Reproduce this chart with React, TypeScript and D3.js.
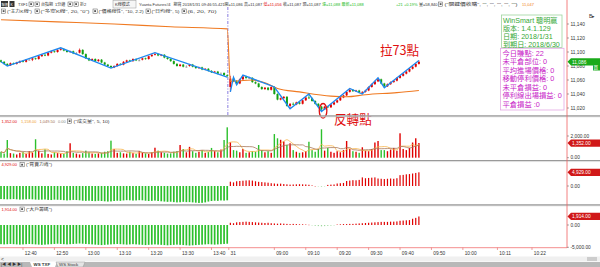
import * as d3 from "d3";

// 1-min bars [open, high, low, close]: 12:33–13:45 of the previous session, then 08:46–09:46 on 2018/1/31
const pmBars = [
  [11088,11089,11085,11086],[11086,11087,11082,11083],[11083,11084,11080,11081],[11081,11085,11080,11084],[11084,11085,11082,11083],
  [11083,11086,11082,11085],[11085,11088,11084,11087],[11087,11088,11085,11086],[11086,11090,11085,11089],[11089,11090,11088,11089],
  [11089,11092,11087,11091],[11091,11092,11089,11090],[11090,11095,11089,11094],[11094,11097,11093,11096],[11096,11097,11094,11095],
  [11095,11100,11094,11099],[11099,11102,11098,11101],[11101,11102,11099,11100],[11100,11104,11099,11103],[11103,11106,11102,11104],
  [11104,11105,11101,11102],[11102,11103,11099,11100],[11100,11102,11099,11101],[11101,11102,11097,11098],[11098,11100,11097,11098],
  [11099,11105,11098,11103],[11103,11104,11096,11097],[11097,11098,11090,11091],[11091,11092,11087,11088],[11088,11091,11087,11090],
  [11090,11091,11086,11087],[11087,11090,11086,11089],[11089,11090,11084,11085],[11085,11086,11081,11082],[11082,11083,11079,11080],
  [11080,11081,11077,11078],[11078,11081,11077,11080],[11080,11084,11079,11083],[11083,11084,11081,11082],[11082,11087,11081,11086],
  [11086,11089,11085,11088],[11088,11089,11086,11087],[11087,11091,11086,11090],[11090,11091,11087,11088],[11088,11090,11087,11088],
  [11089,11092,11088,11091],[11091,11092,11089,11090],[11090,11095,11089,11094],[11094,11097,11093,11096],[11096,11099,11095,11097],
  [11097,11098,11094,11095],[11095,11097,11094,11096],[11096,11097,11091,11092],[11092,11093,11089,11090],[11090,11091,11086,11087],
  [11087,11088,11082,11083],[11083,11084,11079,11080],[11080,11083,11079,11082],[11082,11083,11078,11079],[11079,11081,11078,11079],
  [11080,11083,11079,11082],[11082,11083,11078,11079],[11079,11080,11076,11077],[11077,11079,11076,11078],[11078,11079,11074,11075],
  [11075,11077,11074,11076],[11076,11077,11072,11073],[11073,11074,11070,11071],[11071,11073,11070,11072],[11072,11073,11068,11069],
  [11069,11071,11068,11069],[11070,11071,11066,11067],[11067,11068,11064,11066],
];
const amBars = [
  [11050,11066,11043,11062],[11062,11064,11057,11058],[11058,11060,11053,11055],[11055,11062,11054,11061],[11061,11067,11060,11065],
  [11065,11066,11061,11063],[11063,11065,11062,11063],[11063,11064,11056,11057],[11057,11058,11054,11055],[11055,11056,11049,11050],
  [11050,11051,11046,11047],[11047,11050,11046,11049],[11049,11050,11045,11046],[11046,11051,11045,11050],[11050,11051,11039,11040],
  [11040,11041,11031,11032],[11032,11035,11031,11034],[11034,11037,11033,11036],[11036,11037,11022,11023],[11023,11027,11019,11026],
  [11026,11028,11024,11025],[11025,11029,11024,11028],[11028,11029,11025,11026],[11026,11032,11025,11031],[11031,11036,11030,11035],
  [11035,11040,11033,11034],[11034,11035,11029,11030],[11030,11031,11025,11026],[11026,11027,11021,11022],[11022,11023,11015,11018],
  [11018,11023,11017,11022],[11022,11023,11020,11021],[11021,11026,11020,11025],[11025,11029,11024,11028],[11028,11032,11027,11031],
  [11031,11036,11030,11035],[11035,11039,11034,11038],[11038,11044,11037,11043],[11043,11048,11042,11046],[11046,11047,11043,11044],
  [11044,11046,11043,11045],[11045,11046,11041,11042],[11042,11044,11040,11043],[11043,11046,11042,11045],[11045,11051,11044,11050],
  [11050,11055,11049,11054],[11054,11059,11053,11058],[11058,11063,11057,11061],[11061,11062,11054,11055],[11055,11056,11049,11051],
  [11051,11055,11050,11054],[11054,11058,11053,11057],[11057,11060,11056,11059],[11059,11064,11058,11063],[11063,11067,11062,11066],
  [11066,11070,11065,11069],[11069,11073,11068,11072],[11072,11077,11071,11076],[11076,11080,11075,11079],[11079,11084,11078,11083],
  [11083,11088,11082,11086],
];

const pmVolume = [
  550,380,1630,420,380,300,450,520,350,600,
  480,1700,650,400,770,350,300,500,420,380,
  350,600,1330,450,380,300,420,650,500,380,
  350,400,450,550,600,1570,800,450,500,400,
  380,550,420,350,600,450,400,350,500,920,
  650,500,450,380,400,550,600,1170,800,500,
  1000,600,450,550,700,450,550,900,600,500,
  750,1630,2800,
];
const amVolume = [
  1420,700,650,500,800,450,500,600,550,1170,
  700,500,600,450,2180,1790,1650,1500,1170,1330,
  700,550,450,500,600,1470,700,550,800,2620,
  650,900,550,450,600,500,700,1540,800,600,
  550,450,960,650,600,800,1400,1540,700,700,
  600,750,900,650,2250,800,700,900,1400,1790,
  1352,
];

// 買賣力道
const pmForce = [
  -4700,-4750,-4800,-4750,-4700,-4800,-4900,-4850,-4800,-4750,
  -4800,-4900,-4950,-4900,-4850,-5000,-5050,-4900,-4950,-5000,
  -5100,-5200,-5100,-5000,-5050,-5150,-5300,-5350,-5300,-5400,
  -5450,-5350,-5400,-5500,-5600,-5550,-5400,-5300,-5350,-5200,
  -5100,-5150,-5250,-5200,-5100,-5150,-5300,-5400,-5350,-5250,
  -5400,-5500,-5600,-5700,-5650,-5800,-5900,-5850,-5700,-5800,
  -5800,-5900,-6000,-6100,-6050,-5900,-5600,-5400,-5300,-5350,
  -5200,-5250,-5150,
];
const amForce = [
  1550,1300,1700,1800,1900,2000,2050,1950,1700,1500,
  1400,1300,1200,1000,900,800,850,700,600,500,
  550,600,650,600,550,450,200,0,-150,-250,
  -100,400,500,550,900,1000,1100,1800,1950,2100,
  2050,2200,3100,2800,2900,3000,3100,2700,2600,2500,
  2600,2700,2600,2800,3900,4000,4200,4300,4500,4700,
  4929,
];

// 大戶籌碼
const pmBig = [
  -4300,-4350,-4300,-4250,-4300,-4350,-4400,-4350,-4300,-4250,
  -4300,-4350,-4400,-4450,-4400,-4350,-4300,-4250,-4200,-4250,
  -4300,-4350,-4300,-4250,-4200,-4150,-4200,-4250,-4300,-4350,
  -4400,-4450,-4500,-4450,-4400,-4350,-4300,-4250,-4300,-4350,
  -4400,-4350,-4300,-4350,-4400,-4450,-4500,-4450,-4400,-4350,
  -4400,-4450,-4500,-4550,-4500,-4450,-4400,-4450,-4500,-4550,
  -4600,-4550,-4500,-4450,-4400,-4350,-4300,-4350,-4400,-4350,
  -4300,-4250,-4200,
];
const amBig = [
  500,400,600,650,700,750,700,650,600,550,
  500,450,500,400,350,300,350,300,250,200,
  250,200,150,150,100,50,-100,-200,-250,-300,
  -250,-200,-150,-100,100,150,200,200,250,250,
  300,350,400,450,500,550,600,650,700,700,
  700,750,750,800,950,1000,1050,1100,1400,1600,
  1914,
];

// swing (zigzag) pivots, bar index / price
const zigPmIdx = [0, 2, 19, 35, 49, 72];
const zigPmPrice = [11086, 11080, 11106, 11077, 11099, 11064];
const zigAmIdx = [73, 74, 75, 77, 87, 92, 98, 102, 111, 115, 120, 122, 133];
const zigAmPrice = [11043, 11064, 11053, 11067, 11050, 11019, 11040, 11015, 11048, 11040, 11063, 11049, 11088];

// orange average line, read at a few bars
const avgIdx = [0, 18, 36, 54, 72, 73, 76, 80, 84, 88, 95, 105, 110, 116, 126, 133];
const avgPrice = [11146, 11143, 11140, 11136, 11133, 11058, 11059, 11060, 11056, 11048, 11043, 11037, 11036, 11039, 11042, 11045];

const priceTicks = [11140, 11120, 11100, 11080, 11060, 11040, 11020];
const timeTickIdx = [7, 17, 27, 37, 47, 57, 67, 72.5, 87, 97, 107, 117, 127, 137, 147, 158, 169];
const timeTickLabels = ["12:40","12:50","13:00","13:10","13:20","13:30","13:40","31","09:00","09:10","09:20","09:30","09:40","09:50","10:00","10:11","10:22"];

const infoGreen = ["WinSmart 聰明贏", "版本: 1.4.1.129", "日期: 2018/1/31", "到期日: 2018/6/30"];
const infoPink = ["今日賺點: 22", "未平倉部位: 0", "平均進場價格: 0", "移動停利價格: 0", "未平倉損益: 0", "停利線出場損益: 0", "平倉損益 :0"];

const UI = "'Liberation Sans', 'Noto Sans CJK TC', sans-serif";
const CJK = "'Noto Sans CJK TC', 'Noto Sans CJK SC', sans-serif";
const RED = "#e00000";
const GREEN = "#12a012";
const VGREEN = "#2cc02c";
const EDGE = 567;

const bars = [...pmBars, ...amBars];
const volume = [...pmVolume, ...amVolume];
const force = [...pmForce, ...amForce];
const bigHand = [...pmBig, ...amBig];
const split = pmBars.length;

const x = d3.scaleLinear().domain([0, 169]).range([1, 1 + 3.142 * 169]);
const py = d3.scaleLinear().domain([11020, 11140]).range([108, 24]);
const vy = d3.scaleLinear().domain([0, 2000]).range([157.7, 136]);
const fy = d3.scaleLinear().domain([0, 4929]).range([186, 172.3]);
const by = d3.scaleLinear().domain([-5000, 0]).range([247.3, 225]);

const ma = (n: number) => volume.map((_, i) => d3.mean(volume.slice(Math.max(0, i - n + 1), i + 1)) as number);
const ma5 = ma(5);
const ma10 = ma(10);

const pLine = d3.line<[number, number]>().x(d => x(d[0])).y(d => py(d[1]));
const avgLine = d3.line<[number, number]>().x(d => x(d[0])).y(d => py(d[1])).curve(d3.curveMonotoneX);
const vLine = d3.line<number>().x((_, i) => x(i)).y(d => vy(d)).curve(d3.curveMonotoneX);

const barColor = (b: number[]) => (b[3] > b[0] ? RED : b[3] < b[0] ? GREEN : "#8a8a8a");

const Txt = ({ x, y, c = "#333", s = 4, f = UI, w, a, len, children }: any) => (
  <text x={x} y={y} fill={c} fontSize={s} fontFamily={f} fontWeight={w} textAnchor={a}
    textLength={len} lengthAdjust={len ? "spacingAndGlyphs" : undefined}>{children}</text>
);
const Icon = ({ x, y }: { x: number; y: number }) => (
  <g>
    <rect x={x} y={y} width={4.2} height={4.2} fill="#fff" stroke="#555" strokeWidth={0.5} />
    <rect x={x + 1.2} y={y + 1.2} width={1.8} height={1.8} fill="#555" />
  </g>
);
const Tag = ({ y, color, label }: { y: number; color: string; label: string }) => (
  <g>
    <path d={`M${EDGE + 0.5},${y} L${EDGE + 4},${y - 3.6} L600,${y - 3.6} L600,${y + 3.6} L${EDGE + 4},${y + 3.6} Z`} fill={color} />
    <Txt x={EDGE + 5} y={y + 1.7} c="#fff" s={4.8}>{label}</Txt>
  </g>
);
const AxisLabel = ({ y, label }: { y: number; label: string }) => (
  <g>
    <line x1={EDGE} x2={EDGE + 2} y1={y} y2={y} stroke="#555" strokeWidth={0.5} />
    <Txt x={EDGE + 3.5} y={y + 1.7} s={4.8}>{label}</Txt>
  </g>
);

export default function App() {
  const zigPm = zigPmIdx.map((d, i) => [d, zigPmPrice[i]] as [number, number]);
  const zigAm = zigAmIdx.map((d, i) => [d, zigAmPrice[i]] as [number, number]);
  const avg = avgIdx.map((d, i) => [d, avgPrice[i]] as [number, number]);

  return (
    <div style={{ position: "absolute", left: 0, top: 0 }}>
      <svg width={600} height={267} viewBox="0 0 600 267" style={{ display: "block", background: "#fff" }}>
        {/* toolbar rows */}
        <rect x={1} y={1} width={7} height={6} fill="#333" />
        <Txt x={1.6} y={5.6} c="#fff" s={3.2} f={CJK}>報價</Txt>
        <rect x={9.5} y={1} width={5} height={6} fill="#333" />
        <Txt x={10.6} y={5.6} c="#fff" s={3.4}>K</Txt>
        <Txt x={18} y={5.8}>TXF1</Txt>
        <Icon x={29} y={2} />
        <Icon x={35} y={2} />
        <Txt x={41} y={5.8}>台指期</Txt>
        <Txt x={55} y={5.8}>1分鐘</Txt>
        <Icon x={68} y={2} />
        <Icon x={74} y={2} />
        <Txt x={80} y={5.8}>拆2</Txt>
        <rect x={113} y={0.5} width={23} height={7.5} fill="#f6f6f6" stroke="#999" strokeWidth={0.5} />
        <Txt x={115} y={5.8}>K線模式</Txt>
        <Txt x={139} y={5.8}>Yuanta Futures#4</Txt>
        <Txt x={173.5} y={5.8}>期貨</Txt>
        <Txt x={182.5} y={5.8}>2018/1/31 09:46:55.421</Txt>
        <Txt x={224.5} y={5.8}>開=11,086</Txt>
        <Txt x={244} y={5.8}>高=11,087</Txt>
        <Txt x={263.5} y={5.8} c={RED}>低=11,056</Txt>
        <Txt x={283} y={5.8}>收=11,087</Txt>
        <Txt x={302.5} y={5.8}>現=11,087</Txt>
        <Txt x={322} y={5.8} c="#22bb22">漲=11,088</Txt>
        <Txt x={341.5} y={5.8} c="#22bb22">最新=11,088</Txt>
        <Txt x={396} y={5.8} c="#22bb22">+21 +0.19%</Txt>
        <Txt x={419} y={5.8}>量=58,840</Txt>
        <Icon x={438.5} y={2} />
        <Txt x={444.5} y={5.8} len={73}>("關鍵價收購", "", "", "", "", "")</Txt>
        <Txt x={522} y={5.8} c="#f08020">11,047</Txt>

        <Icon x={1.5} y={9} />
        <Txt x={7} y={12.8} len={25}>("主力K線")</Txt>
        <Icon x={35} y={9} />
        <Txt x={40.5} y={12.8} len={49}>("多空K線", 20, "0")</Txt>
        <Icon x={93} y={9} />
        <Txt x={98.5} y={12.8} len={45}>("價格線性", "10, 2.2)</Txt>
        <Icon x={146} y={9} />
        <Txt x={151.5} y={12.8} len={28}>("日均線", 5)</Txt>
        <Icon x={182} y={9} />
        <Txt x={187.5} y={12.8} len={29}>(6, 20, 70)</Txt>
        <Txt x={589} y={17.5} s={5}>B▸</Txt>

        {/* session divider */}
        <line x1={x(72.2)} x2={x(72.2)} y1={7} y2={116} stroke="#6a5ad8" strokeWidth={0.8} strokeDasharray="3,1.5,1,1.5" />

        {/* candles */}
        {bars.map((b, i) => {
          const col = barColor(b);
          const cx = x(i);
          const top = py(Math.max(b[0], b[3]));
          const bot = py(Math.min(b[0], b[3]));
          return (
            <g key={i}>
              <line x1={cx} x2={cx} y1={py(b[1])} y2={py(b[2])} stroke={col} strokeWidth={0.7} />
              <rect x={cx - 1} y={top} width={2} height={Math.max(0.8, bot - top)} fill={col} />
            </g>
          );
        })}
        <path d={avgLine(avg) ?? ""} fill="none" stroke="#f07a22" strokeWidth={1.1} />
        <path d={pLine(zigPm) ?? ""} fill="none" stroke="#1e88f0" strokeWidth={1.3} />
        <path d={pLine(zigAm) ?? ""} fill="none" stroke="#1e88f0" strokeWidth={1.3} />

        {/* annotations */}
        <ellipse cx={x(102.5)} cy={py(11016)} rx={3.8} ry={7.3} fill="none" stroke="#e01010" strokeWidth={1.3} />
        <Txt x={334} y={124} c="#e01010" s={12.6} f={CJK}>反轉點</Txt>
        <Txt x={380} y={54.5} c="#e01010" s={12.6} f={CJK}>拉73點</Txt>

        {/* volume */}
        {volume.map((v, i) => (
          <rect key={i} x={x(i) - 0.7} y={vy(v)} width={1.4} height={vy(0) - vy(v)} fill={bars[i][3] >= bars[i][0] ? RED : VGREEN} />
        ))}
        <path d={vLine(ma5) ?? ""} fill="none" stroke="#f8b44a" strokeWidth={0.8} />
        <path d={vLine(ma10) ?? ""} fill="none" stroke="#a8785a" strokeWidth={0.8} />
        <Txt x={1.5} y={122.5} c={RED}>1,352.00</Txt>
        <Txt x={21} y={122.5} c="#f0a030">1,158.00</Txt>
        <Txt x={39.5} y={122.5} c="#a07050">1,049.50</Txt>
        <Txt x={58} y={122.5} c="#888">0.00</Txt>
        <Icon x={67.5} y={119} />
        <Txt x={73.5} y={122.5} len={36}>("成交量", 5, 10)</Txt>

        {/* 買賣力道 */}
        {force.map((v, i) => (
          <rect key={i} x={x(i) - (i < split ? 0.85 : 0.6)} y={Math.min(fy(v), fy(0))} width={i < split ? 1.7 : 1.2}
            height={Math.max(0.4, Math.abs(fy(v) - fy(0)))} fill={v >= 0 ? RED : i < split ? VGREEN : "#9ed89e"} />
        ))}
        <Txt x={1.5} y={166} c={RED}>4,929.00</Txt>
        <Icon x={20} y={162.6} />
        <Txt x={26} y={166} len={26}>("買賣力道")</Txt>

        {/* 大戶籌碼 */}
        {bigHand.map((v, i) => (
          <rect key={i} x={x(i) - (i < split ? 0.85 : 0.6)} y={Math.min(by(v), by(0))} width={i < split ? 1.7 : 1.2}
            height={Math.max(0.4, Math.abs(by(v) - by(0)))} fill={v >= 0 ? RED : i < split ? VGREEN : "#9ed89e"} />
        ))}
        <Txt x={1.5} y={210.5} c={RED}>1,914.00</Txt>
        <Icon x={20} y={207} />
        <Txt x={26} y={210.5} len={26}>("大戶籌碼")</Txt>

        {/* panel separators */}
        {[116, 160.6, 205].map(y => (
          <g key={y}>
            <line x1={0} x2={600} y1={y} y2={y} stroke="#9a9a9a" strokeWidth={1.3} />
            <line x1={0} x2={600} y1={y + 1} y2={y + 1} stroke="#dcdcdc" strokeWidth={0.6} />
          </g>
        ))}

        {/* right edge */}
        <line x1={EDGE} x2={EDGE} y1={0} y2={248} stroke="#f06060" strokeWidth={0.8} />
        {priceTicks.map(p => <AxisLabel key={p} y={py(p)} label={d3.format(",")(p)} />)}
        <Tag y={py(11086)} color="#1aaa1a" label="11,086" />
        <rect x={593} y={64.5} width={7} height={6} fill="#1aaa1a" />
        <Txt x={593.5} y={69.2} c="#fff" s={4.6} f={CJK}>買</Txt>
        <AxisLabel y={vy(2000)} label="2,000.00" />
        <AxisLabel y={vy(0)} label="0.00" />
        <Tag y={vy(1352)} color="#d01818" label="1,352.00" />
        <AxisLabel y={fy(0)} label="0.00" />
        <Tag y={fy(4929)} color="#d01818" label="4,929.00" />
        <AxisLabel y={by(0)} label="0.00" />
        <AxisLabel y={by(-5000)} label="-5,000.00" />
        <Tag y={by(1914)} color="#d01818" label="1,914.00" />

        {/* info boxes */}
        <rect x={501.5} y={15} width={60.5} height={32.5} fill="#fff" fillOpacity={0.9} stroke="#9fd49f" strokeWidth={0.8} />
        {infoGreen.map((t, i) => (
          <Txt key={t} x={503} y={22.6 + i * 8.2} c="#36a836" s={7.1}>{t}</Txt>
        ))}
        <rect x={500.5} y={48.3} width={63.5} height={61.7} fill="none" stroke="#e4a8e4" strokeWidth={0.8} />
        {infoPink.map((t, i) => (
          <Txt key={t} x={502.5} y={55.8 + i * 8.45} c="#c81ec8" s={7.3}>{t}</Txt>
        ))}

        {/* time axis */}
        <line x1={0} x2={EDGE} y1={247.7} y2={247.7} stroke="#f07070" strokeWidth={0.8} />
        {timeTickIdx.map((t, i) => (
          <g key={t}>
            <line x1={x(t)} x2={x(t)} y1={247.7} y2={250} stroke="#e06060" strokeWidth={0.6} />
            <Txt x={x(t) + 1.8} y={254.8} s={4.8}>{timeTickLabels[i]}</Txt>
          </g>
        ))}

        {/* scrollbar and sheet tabs */}
        <rect x={0} y={256.5} width={600} height={5} fill="#f0f0f0" />
        <Txt x={1} y={260.6} s={5}>{"<"}</Txt>
        <rect x={587} y={257} width={10} height={4} fill="#cdcdcd" />
        <rect x={0} y={262} width={600} height={5} fill="#b8b8b8" />
        <Txt x={1} y={266.2} s={4}>{"|◀ ◀ ▶ ▶|"}</Txt>
        <path d="M30,262 L32,267 L55,267 L57,262 Z" fill="#fff" />
        <Txt x={33.5} y={266.4} s={4.4} w="bold">WS TXF</Txt>
        <path d="M56,262 L58,267 L83,267 L85,262 Z" fill="#e4e4e4" stroke="#888" strokeWidth={0.4} />
        <Txt x={59} y={266.4} s={4.4}>WS Stock</Txt>
      </svg>
    </div>
  );
}
